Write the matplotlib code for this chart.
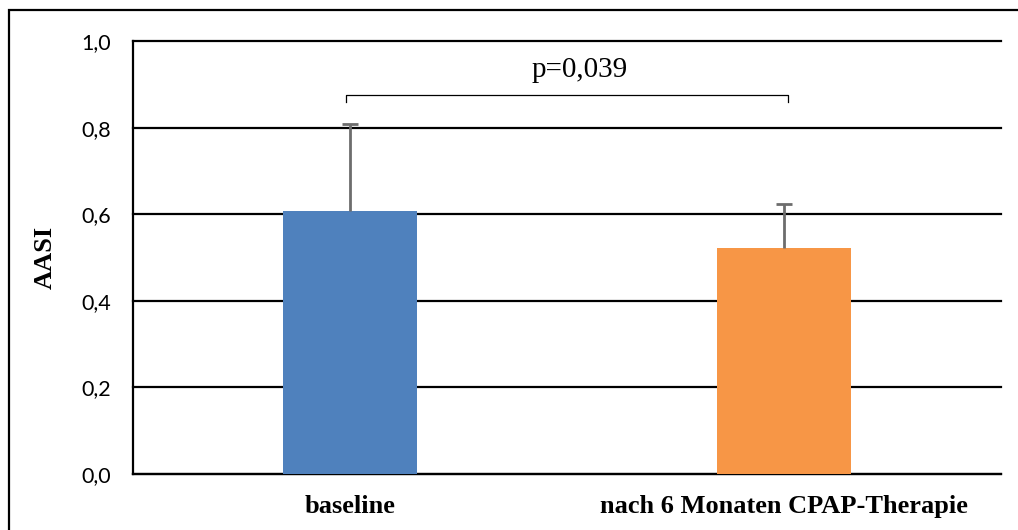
import numpy as np
import matplotlib
matplotlib.use('Agg')
import matplotlib.pyplot as plt
from matplotlib.patches import Rectangle

kategorien = ['baseline', 'nach 6 Monaten CPAP-Therapie']
aasi = [0.607, 0.522]
fehler_oben = [0.201, 0.102]
farben = ['#4f81bd', '#f79646']
p_text = 'p=0,039'
y_ticks = [0.0, 0.2, 0.4, 0.6, 0.8, 1.0]
y_labels = ['0,0', '0,2', '0,4', '0,6', '0,8', '1,0']

fig = plt.figure(figsize=(10.18, 5.3), dpi=100)
ax = fig.add_axes([133/1018, 1 - 474/530, 868/1018, 433/530])

x = np.arange(len(kategorien))
ax.bar(x, aasi, width=0.31, color=farben, zorder=3)
# nur oberer Fehlerbalken
eb = ax.errorbar(x, aasi, yerr=[np.zeros(len(aasi)), fehler_oben], fmt='none',
                 ecolor='#6d6d6d', elinewidth=2, capsize=6, capthick=2, zorder=4)
eb[1][0].set_visible(False)  # untere kappe weg

ax.set_xlim(-0.5, 1.5)
ax.set_ylim(0, 1.0)
ax.set_yticks(y_ticks)
ax.set_yticklabels(y_labels, fontsize=15.5, family='Lato')
ax.set_xticks(x)
ax.set_xticklabels(kategorien, fontsize=19, fontweight='bold', family='Liberation Serif')
ax.tick_params(length=0, axis='y', pad=16)
ax.tick_params(length=0, axis='x', pad=15)
for t in y_ticks:
    ax.axhline(t, color='black', lw=1.6, zorder=2, clip_on=False)
ax.spines['top'].set_visible(False)
ax.spines['right'].set_visible(False)
ax.spines['bottom'].set_linewidth(1.6)
ax.spines['left'].set_linewidth(1.6)
ax.set_ylabel('AASI', fontsize=19, fontweight='bold', family='Liberation Serif')
ax.yaxis.set_label_coords(-0.0876, 0.5)

# Signifikanzklammer
ax.plot([-0.01, -0.01, 1.01, 1.01], [0.86, 0.875, 0.875, 0.86], color='black', lw=0.9, zorder=5)
ax.text(0.53, 0.918, p_text, ha='center', va='baseline', fontsize=21, family='Liberation Serif')

# Rahmen um die Grafik
fig.add_artist(Rectangle((9/1018, -0.1), 1.1, 1 - 10/530 + 0.1, transform=fig.transFigure,
                         fill=False, ec='black', lw=1.6))

fig.savefig('out.png', dpi=100)
